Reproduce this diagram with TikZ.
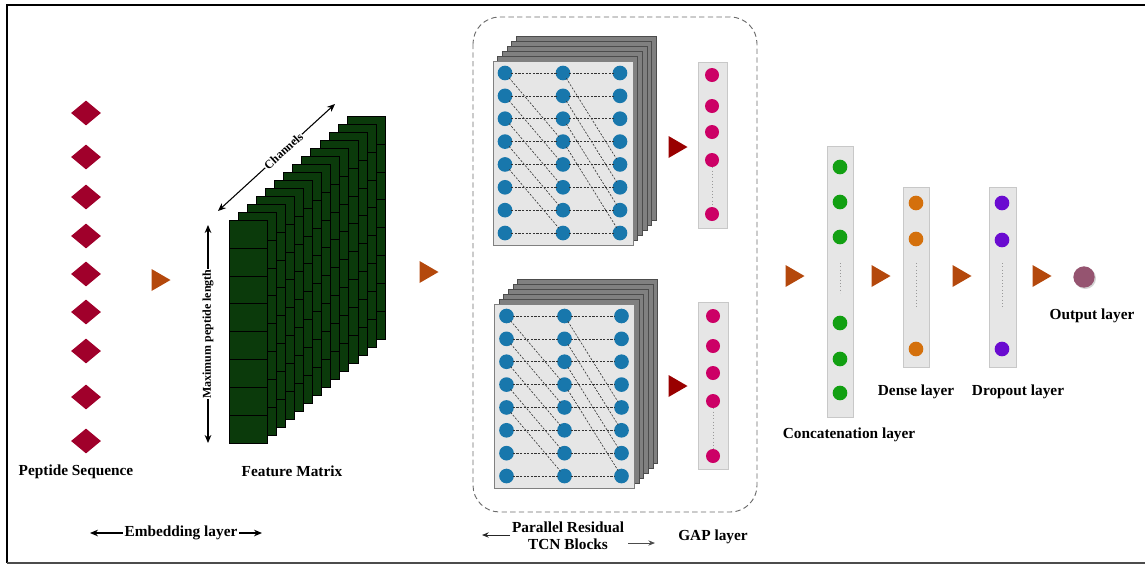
\documentclass[tikz,border=0pt]{standalone}
\usepackage{fontspec}
\setmainfont{Liberation Serif}
\usetikzlibrary{shapes.geometric,arrows.meta,shadows}
\definecolor{pepred}{RGB}{160,0,43}
\definecolor{triorange}{RGB}{180,72,12}
\definecolor{trired}{RGB}{153,0,0}
\definecolor{slabgreen}{RGB}{11,58,11}
\definecolor{tcnblue}{RGB}{24,119,172}
\definecolor{gapmag}{RGB}{204,0,102}
\definecolor{catgreen}{RGB}{18,160,18}
\definecolor{denseor}{RGB}{212,112,12}
\definecolor{droppur}{RGB}{106,11,208}
\definecolor{outcol}{RGB}{149,84,112}
\definecolor{panelgray}{RGB}{128,128,128}
\definecolor{panelfront}{RGB}{230,230,230}
\definecolor{layerfill}{RGB}{230,230,230}
\definecolor{layerdraw}{RGB}{200,200,200}
\newcommand\tcnblock[1]{%
  \foreach \k in {5,4,3,2,1}
    \draw[draw=gray!60!black, fill=panelgray, line width=0.4pt] (493+4.6*\k, 61-5*\k) rectangle (633+4.6*\k, 245-5*\k);
  \draw[fill=panelfront, draw=gray, line width=0.6pt] (493,61) rectangle (633,245);
  \foreach \c/\cx in {1/505,2/563,3/620}
    \foreach \r in {1,...,8}
      \node[tcnnode] (#1-\c-\r) at (\cx, {73+22.86*(\r-1)}) {};
  \foreach \r in {1,...,8} {
    \draw[conn] (#1-1-\r) -- (#1-2-\r);
    \draw[conn] (#1-2-\r) -- (#1-3-\r);
  }
  \foreach \r [evaluate=\r as \s using int(\r+3)] in {1,...,5}
    \draw[conn] (#1-1-\r) -- (#1-2-\s);
  \foreach \r [evaluate=\r as \s using int(\r+4)] in {1,...,4}
    \draw[conn] (#1-2-\r) -- (#1-3-\s);
}
\begin{document}
\begin{tikzpicture}[x=0.75pt,y=-0.75pt,
  lbl/.style={font=\bfseries\fontsize{11.5}{12.8}\selectfont, inner sep=1pt},
  small/.style={font=\bfseries\fontsize{9}{10}\selectfont, inner sep=0.5pt, fill=white},
  diam/.style={diamond, fill=pepred, draw=none, minimum width=22.5pt, minimum height=18.75pt, inner sep=0pt},
  tcnnode/.style={circle, fill=tcnblue, draw=none, minimum size=11pt, inner sep=0pt},
  gapnode/.style={circle, fill=gapmag, draw=none, minimum size=10.5pt, inner sep=0pt},
  catnode/.style={circle, fill=catgreen, draw=none, minimum size=11pt, inner sep=0pt},
  densenode/.style={circle, fill=denseor, draw=none, minimum size=11pt, inner sep=0pt},
  dropnode/.style={circle, fill=droppur, draw=none, minimum size=11pt, inner sep=0pt},
  conn/.style={draw=black!80, dash pattern=on 1.6pt off 1.1pt, line width=0.45pt, shorten >=-1pt, shorten <=-1pt},
  dots/.style={draw=gray!80, dotted, line width=0.5pt},
  layerbox/.style={fill=layerfill, draw=layerdraw, line width=0.6pt},
  arr/.style={{Stealth[length=6pt,width=5pt]}-{Stealth[length=6pt,width=5pt]}, line width=0.8pt},
  sarr/.style={-{Stealth[length=6pt,width=5pt]}, line width=0.8pt},
  tcnbox/.style={draw=gray!85!black, dash pattern=on 4pt off 2.5pt, line width=0.7pt, rounded corners=20pt},
  otri/.pic={\fill[triorange] (-9.5,-11) -- (9.5,0) -- (-9.5,11) -- cycle;},
  rtri/.pic={\fill[trired] (-9.5,-11) -- (9.5,0) -- (-9.5,11) -- cycle;}
]
\useasboundingbox (0,0) rectangle (1145,565);
% frame
\draw[line width=1.1pt] (7,563) -- (7,5) -- (1145,5);
\draw[line width=1.1pt, gray!60!black] (7,563) -- (1145,563);

% peptide sequence
\foreach \i/\y in {1/113,2/157,3/197,4/236,5/274,6/312,7/351,8/397,9/441}
  \node[diam] (p\i) at (86,\y) {};
\node[lbl] (peplbl) at (76,472) {Peptide Sequence};

% triangles
\pic at (161,280) {otri};
\pic at (429,272) {otri};
\pic at (795,276) {otri};
\pic at (881,276) {otri};
\pic at (962,276) {otri};
\pic at (1042,276) {otri};
\pic at (678,147) {rtri};
\pic at (678,386) {rtri};

% feature matrix
\foreach \k in {13,12,...,0} {
  \pgfmathsetmacro\dx{9.08*\k}
  \pgfmathsetmacro\dy{-8.0*\k}
  \begin{scope}[shift={(\dx,\dy)}]
    \draw[fill=slabgreen, draw=black, line width=0.4pt] (229,220) rectangle (267,443);
    \foreach \j in {1,...,7}
      \draw[black, line width=0.4pt] (229,{220+27.9*\j}) -- (267,{220+27.9*\j});
  \end{scope}
}
\coordinate (chA) at (218,211);
\coordinate (chB) at (335,104);
\draw[arr] (chA) -- (chB) node[small, pos=0.56, sloped] {Channels};
\coordinate (mlA) at (208,443);
\coordinate (mlB) at (208,225);
\draw[arr] (mlA) -- (mlB) node[small, pos=0.5, sloped] {Maximum peptide length};
\node[lbl] (fmlbl) at (292,471) {Feature Matrix};

% embedding layer
\node[lbl] (emb) at (181,533) {Embedding layer};
\coordinate (embL) at (90,533);
\coordinate (embR) at (262,533);
\draw[sarr] (emb.west) -- (embL);
\draw[sarr] (emb.east) -- (embR);

% TCN box
\draw[tcnbox] (473,17) rectangle (757,512);
\begin{scope}
  \tcnblock{ta}
\end{scope}
\begin{scope}[shift={(1.5,243)}]
  \tcnblock{tb}
\end{scope}

% GAP layers
\draw[layerbox] (698,62) rectangle (727,228);
\foreach \i/\y in {1/75,2/106,3/132,4/160,5/214}
  \node[gapnode] (ga\i) at (712,\y) {};
\draw[dots] (ga4) -- (ga5);
\draw[layerbox] (698,302) rectangle (728,469);
\foreach \i/\y in {1/316,2/346,3/373,4/401,5/456}
  \node[gapnode] (gb\i) at (713,\y) {};
\draw[dots] (gb4) -- (gb5);

% labels under TCN
\node[lbl, align=center] (prb) at (568,536) {Parallel Residual\\TCN Blocks};
\coordinate (prL1) at (510,535);
\coordinate (prL2) at (482,535);
\coordinate (prR1) at (628,543);
\coordinate (prR2) at (655,543);
\draw[-{Stealth[length=5pt,width=4pt]}, line width=0.7pt, black!85] (prL1) -- (prL2);
\draw[-{Stealth[length=5pt,width=4pt]}, line width=0.7pt, black!70] (prR1) -- (prR2);
\node[lbl] (gaplbl) at (713,537) {GAP layer};

% concatenation
\draw[layerbox] (827,146) rectangle (853,417);
\foreach \i/\y in {1/167,2/202,3/237,4/323,5/359,6/393}
  \node[catnode] (c\i) at (840,\y) {};
\coordinate (cd1) at (840,263);
\coordinate (cd2) at (840,293);
\draw[dots] (cd1) -- (cd2);
\node[lbl] (catlbl) at (849,435) {Concatenation layer};

% dense
\draw[layerbox] (903,187) rectangle (929,367);
\foreach \i/\y in {1/203,2/239,3/349}
  \node[densenode] (d\i) at (916,\y) {};
\coordinate (dd1) at (916,263);
\coordinate (dd2) at (916,308);
\draw[dots] (dd1) -- (dd2);
\node[lbl] (denlbl) at (916,392) {Dense layer};

% dropout
\draw[layerbox] (989,187) rectangle (1016,367);
\foreach \i/\y in {1/203,2/240,3/349}
  \node[dropnode] (r\i) at (1002,\y) {};
\coordinate (rd1) at (1002,263);
\coordinate (rd2) at (1002,308);
\draw[dots] (rd1) -- (rd2);
\node[lbl] (droplbl) at (1018,392) {Dropout layer};

% output
\node[circle, fill=outcol, minimum size=16pt, inner sep=0pt,
      drop shadow={opacity=0.35, shadow xshift=1pt, shadow yshift=-1pt}] (out) at (1084,277) {};
\node[lbl] (outlbl) at (1092,316) {Output layer};
\end{tikzpicture}
\end{document}
